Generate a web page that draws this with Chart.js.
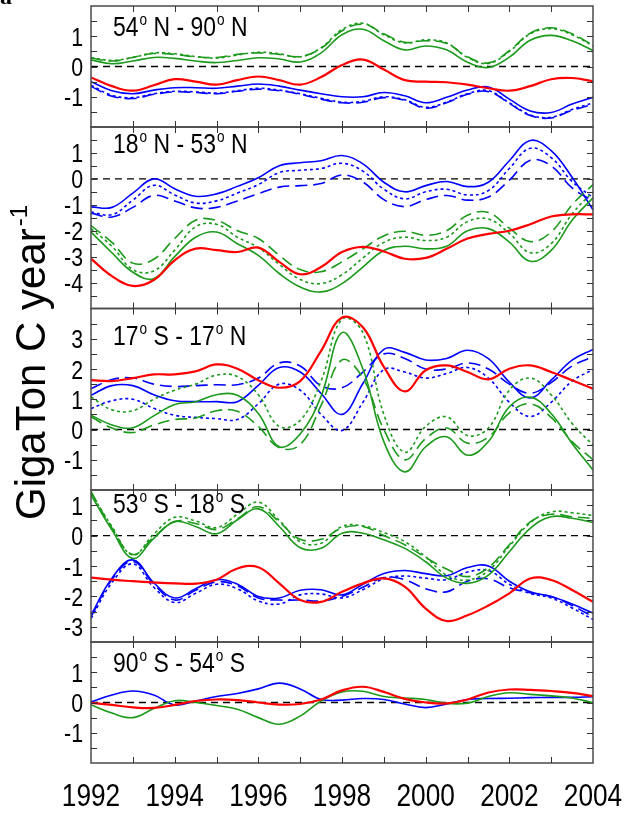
<!DOCTYPE html>
<html>
<head>
<meta charset="utf-8">
<script src="https://cdn.jsdelivr.net/npm/chart.js@4.4.1/dist/chart.umd.min.js"></script>
<style>
  html, body { margin: 0; padding: 0; background: #fff; }
  #wrap { position: relative; width: 625px; height: 813px; }
</style>
</head>
<body>
<div id="wrap"><canvas id="chart" width="625" height="813"></canvas></div>
<script>
// sample years (half-year steps), shared by every series
const YEARS = [1992, 1992.5, 1993, 1993.5, 1994, 1994.5, 1995, 1995.5, 1996, 1996.5, 1997, 1997.5,
  1998, 1998.5, 1999, 1999.5, 2000, 2000.5, 2001, 2001.5, 2002, 2002.5, 2003, 2003.5, 2004];
const X_TICKS = [1992, 1994, 1996, 1998, 2000, 2002, 2004];
const Y_TICKS = [[1, 0, -1], [1, 0, -1, -2, -3, -4], [3, 2, 1, 0, -1], [1, 0, -1, -2, -3], [1, 0, -1]];

const PANEL_TITLES = ['54° N - 90° N', '18° N - 53° N', '17° S - 17° N', '53° S - 18° S', '90° S - 54° S'];

// 54N - 90N
const P1_RED = [-0.36, -0.65, -0.8, -0.62, -0.42, -0.5, -0.6, -0.45, -0.33, -0.45, -0.6, -0.35, 0.05, 0.23, -0.1, -0.45, -0.5, -0.52, -0.6, -0.72, -0.8, -0.65, -0.42, -0.38, -0.49];
const P1_GREEN = [0.22, 0.09, 0.18, 0.3, 0.27, 0.18, 0.13, 0.2, 0.29, 0.25, 0.15, 0.45, 1.05, 1.23, 0.85, 0.55, 0.68, 0.55, 0.14, -0.03, 0.31, 0.87, 1.03, 0.85, 0.53];
const P1_GREEN_DOT = [0.3, 0.2, 0.3, 0.45, 0.42, 0.33, 0.28, 0.38, 0.47, 0.42, 0.32, 0.62, 1.22, 1.43, 1.05, 0.78, 0.88, 0.78, 0.3, 0.1, 0.5, 1.08, 1.25, 1.05, 0.68];
const P1_GREEN_DASH = [0.28, 0.18, 0.3, 0.43, 0.4, 0.32, 0.3, 0.4, 0.45, 0.4, 0.33, 0.6, 1.18, 1.4, 1.08, 0.8, 0.85, 0.76, 0.32, 0.12, 0.52, 1.1, 1.28, 1.08, 0.7];
const P1_BLUE = [-0.5, -0.8, -0.9, -0.78, -0.7, -0.7, -0.72, -0.65, -0.58, -0.65, -0.78, -0.9, -1.0, -1.0, -0.86, -0.97, -1.2, -1.02, -0.78, -0.68, -1.08, -1.47, -1.52, -1.24, -1.02];
const P1_BLUE_DOT = [-0.62, -0.95, -1.03, -0.9, -0.82, -0.84, -0.88, -0.8, -0.72, -0.78, -0.9, -1.05, -1.18, -1.15, -1.0, -1.1, -1.35, -1.18, -0.9, -0.8, -1.2, -1.6, -1.68, -1.42, -1.2];
const P1_BLUE_DASH = [-0.66, -0.98, -1.06, -0.92, -0.84, -0.86, -0.9, -0.82, -0.75, -0.8, -0.92, -1.08, -1.2, -1.18, -1.03, -1.12, -1.38, -1.2, -0.92, -0.83, -1.22, -1.62, -1.7, -1.45, -1.25];

// 18N - 53N
const P2_RED = [-3.08, -3.75, -4.13, -3.9, -3.14, -2.69, -2.75, -2.82, -2.65, -3.2, -3.68, -3.4, -2.82, -2.62, -2.8, -3.08, -3.05, -2.7, -2.3, -2.12, -2.0, -1.75, -1.45, -1.37, -1.37];
const P2_GREEN = [-2.05, -2.85, -3.6, -3.85, -3.0, -2.25, -2.05, -2.5, -2.95, -3.65, -4.17, -4.36, -4.04, -3.4, -2.76, -2.6, -2.7, -2.6, -2.0, -1.92, -2.44, -3.18, -2.76, -1.6, -0.73];
const P2_GREEN_DOT = [-1.92, -2.6, -3.5, -3.55, -2.75, -1.85, -1.75, -2.25, -2.65, -3.3, -3.88, -4.04, -3.7, -3.05, -2.45, -2.25, -2.38, -2.25, -1.65, -1.55, -2.1, -2.85, -2.5, -1.35, -0.5];
const P2_GREEN_DASH = [-1.8, -2.45, -3.25, -3.1, -2.3, -1.6, -1.6, -2.0, -2.3, -2.95, -3.5, -3.58, -3.2, -2.7, -2.2, -2.02, -2.18, -2.0, -1.4, -1.3, -1.9, -2.42, -2.05, -1.0, -0.22];
const P2_BLUE = [-1.08, -1.1, -0.55, 0.0, -0.38, -0.67, -0.58, -0.29, 0.04, 0.51, 0.62, 0.7, 0.9, 0.58, -0.13, -0.5, -0.26, -0.1, -0.3, -0.13, 0.7, 1.48, 1.09, 0.06, -1.19];
const P2_BLUE_DOT = [-1.28, -1.38, -0.82, -0.25, -0.62, -0.93, -0.85, -0.55, -0.22, 0.24, 0.33, 0.4, 0.6, 0.3, -0.4, -0.77, -0.5, -0.4, -0.62, -0.45, 0.4, 1.18, 0.82, -0.1, -0.72];
const P2_BLUE_DASH = [-1.32, -1.47, -1.1, -0.64, -0.85, -1.12, -1.1, -0.85, -0.57, -0.32, -0.26, -0.18, 0.15, -0.12, -0.8, -1.07, -0.8, -0.64, -0.82, -0.7, -0.05, 0.72, 0.5, -0.35, -0.85];

// 17S - 17N
const P3_RED = [1.63, 1.6, 1.7, 1.82, 1.82, 1.92, 2.15, 2.01, 1.63, 1.38, 1.6, 2.6, 3.7, 3.38, 2.07, 1.26, 1.96, 2.12, 1.9, 1.66, 2.01, 2.12, 1.9, 1.63, 1.35];
const P3_GREEN = [0.47, 0.15, 0.06, 0.45, 0.83, 0.92, 1.15, 1.13, 0.53, -0.57, -0.15, 1.1, 3.2, 2.0, -0.4, -1.4, -0.57, -0.24, -0.85, -0.4, 0.75, 1.07, 0.53, -0.46, -1.34];
const P3_GREEN_DOT = [1.08, 0.65, 0.62, 1.0, 1.3, 1.5, 1.8, 1.75, 1.15, 0.1, 0.3, 1.6, 3.65, 3.2, 0.5, -0.75, 0.1, 0.42, -0.2, 0.05, 1.3, 1.7, 1.15, 0.2, -0.52];
const P3_GREEN_DASH = [0.42, 0.05, -0.1, 0.15, 0.33, 0.38, 0.62, 0.6, 0.1, -0.6, -0.5, 0.8, 2.3, 1.7, 0.0, -1.0, -0.3, 0.05, -0.45, -0.25, 0.55, 0.85, 0.4, -0.4, -1.0];
const P3_BLUE = [1.13, 1.45, 1.45, 1.15, 0.95, 0.92, 0.92, 0.92, 1.46, 2.05, 1.9, 1.19, 0.5, 1.52, 2.65, 2.55, 2.3, 2.35, 2.62, 2.34, 1.57, 1.04, 1.63, 2.29, 2.65];
const P3_BLUE_DOT = [0.69, 0.95, 1.0, 0.7, 0.47, 0.4, 0.36, 0.33, 0.85, 1.5, 1.3, 0.5, -0.03, 0.9, 1.98, 1.9, 1.7, 1.85, 2.05, 1.7, 0.9, 0.43, 0.9, 1.6, 1.98];
const P3_BLUE_DASH = [1.35, 1.65, 1.7, 1.5, 1.42, 1.45, 1.48, 1.48, 1.7, 2.2, 2.1, 1.45, 1.38, 1.9, 2.5, 2.35, 2.0, 2.0, 2.2, 2.0, 1.5, 1.2, 1.55, 2.1, 2.4];

// 53S - 18S
const P4_RED = [-1.38, -1.45, -1.5, -1.54, -1.57, -1.58, -1.45, -1.08, -1.04, -1.57, -2.12, -2.18, -1.85, -1.57, -1.41, -1.68, -2.4, -2.81, -2.62, -2.3, -1.9, -1.41, -1.46, -1.79, -2.18];
const P4_GREEN = [1.34, 0.19, -0.75, -0.09, 0.46, 0.3, 0.06, 0.52, 0.88, 0.3, -0.4, -0.42, 0.08, 0.08, -0.14, -0.42, -0.86, -1.4, -1.57, -1.3, -0.53, 0.24, 0.62, 0.57, 0.43];
const P4_GREEN_DOT = [1.4, 0.3, -0.64, 0.05, 0.6, 0.48, 0.26, 0.7, 1.1, 0.5, -0.2, -0.25, 0.3, 0.32, 0.1, -0.2, -0.7, -1.3, -1.46, -1.15, -0.35, 0.42, 0.78, 0.75, 0.66];
const P4_GREEN_DASH = [1.45, 0.25, -0.62, -0.05, 0.46, 0.4, 0.2, 0.55, 0.95, 0.45, -0.12, -0.12, 0.25, 0.3, 0.0, -0.3, -0.72, -1.1, -1.35, -1.05, -0.3, 0.45, 0.7, 0.62, 0.57];
const P4_BLUE = [-2.62, -1.4, -0.8, -1.55, -2.05, -1.75, -1.45, -1.6, -2.0, -2.05, -1.8, -1.78, -1.95, -1.6, -1.25, -1.15, -1.25, -1.32, -1.05, -1.0, -1.5, -1.85, -2.0, -2.25, -2.55];
const P4_BLUE_DOT = [-2.73, -1.55, -0.93, -1.7, -2.2, -1.9, -1.6, -1.75, -2.15, -2.25, -1.95, -1.92, -2.05, -1.78, -1.42, -1.33, -1.4, -1.45, -1.2, -1.15, -1.6, -1.9, -2.05, -2.38, -2.76];
const P4_BLUE_DASH = [-2.67, -1.45, -0.85, -1.6, -2.12, -1.8, -1.52, -1.65, -2.05, -2.12, -2.12, -2.15, -2.0, -1.7, -1.38, -1.45, -1.75, -1.85, -1.5, -1.42, -1.72, -1.88, -2.0, -2.3, -2.67];

// 90S - 54S
const P5_RED = [-0.01, -0.08, -0.16, -0.18, -0.08, 0.05, 0.1, 0.08, 0.0, -0.07, -0.05, 0.1, 0.4, 0.52, 0.35, 0.12, 0.0, -0.03, 0.1, 0.33, 0.43, 0.42, 0.38, 0.32, 0.21];
const P5_GREEN = [-0.07, -0.35, -0.5, -0.2, 0.06, 0.0, -0.1, -0.22, -0.5, -0.72, -0.45, 0.05, 0.35, 0.37, 0.2, 0.15, 0.1, -0.03, -0.02, 0.2, 0.32, 0.27, 0.22, 0.15, -0.01];
const P5_BLUE = [0.02, 0.25, 0.38, 0.25, -0.08, 0.05, 0.2, 0.3, 0.45, 0.64, 0.45, 0.1, 0.08, 0.13, 0.1, -0.05, -0.17, -0.05, 0.1, 0.13, 0.14, 0.16, 0.17, 0.17, 0.19];

const SANS = '"Liberation Sans", Arial, sans-serif';
const SQUEEZE = 0.82; // no narrow face installed: squeeze Liberation Sans to an Arial Narrow width

const STYLE = {
  red: { color: '#ff0000', width: 2.2, dash: [] },
  green: { color: '#1c9a1c', width: 1.6, dash: [] },
  greenDot: { color: '#1c9a1c', width: 1.6, dash: [3, 3] },
  greenDash: { color: '#1c9a1c', width: 1.6, dash: [12, 6] },
  blue: { color: '#0000ff', width: 1.6, dash: [] },
  blueDot: { color: '#0000ff', width: 1.6, dash: [3, 3] },
  blueDash: { color: '#0000ff', width: 1.6, dash: [12, 6] },
};

// panel axes: range, stack height (px) and where the title baseline sits (data value)
const PANELS = [
  { id: 'p1', min: -2, max: 2, h: 121, titleAt: 1.0,
    lines: [[P1_RED, 'red'], [P1_GREEN, 'green'], [P1_GREEN_DOT, 'greenDot'], [P1_GREEN_DASH, 'greenDash'],
            [P1_BLUE, 'blue'], [P1_BLUE_DOT, 'blueDot'], [P1_BLUE_DASH, 'blueDash']] },
  { id: 'p2', min: -5, max: 2, h: 181.5, titleAt: 1.0,
    lines: [[P2_RED, 'red'], [P2_GREEN, 'green'], [P2_GREEN_DOT, 'greenDot'], [P2_GREEN_DASH, 'greenDash'],
            [P2_BLUE, 'blue'], [P2_BLUE_DOT, 'blueDot'], [P2_BLUE_DASH, 'blueDash']] },
  { id: 'p3', min: -2, max: 4, h: 181.5, titleAt: 2.8,
    lines: [[P3_RED, 'red'], [P3_GREEN, 'green'], [P3_GREEN_DOT, 'greenDot'], [P3_GREEN_DASH, 'greenDash'],
            [P3_BLUE, 'blue'], [P3_BLUE_DOT, 'blueDot'], [P3_BLUE_DASH, 'blueDash']] },
  { id: 'p4', min: -3.5, max: 1.5, h: 152, titleAt: 0.75,
    lines: [[P4_RED, 'red'], [P4_GREEN, 'green'], [P4_GREEN_DOT, 'greenDot'], [P4_GREEN_DASH, 'greenDash'],
            [P4_BLUE, 'blue'], [P4_BLUE_DOT, 'blueDot'], [P4_BLUE_DASH, 'blueDash']] },
  { id: 'p5', min: -2, max: 2, h: 121, titleAt: 1.0,
    lines: [[P5_RED, 'red'], [P5_GREEN, 'green'], [P5_BLUE, 'blue']] },
];

function lineDataset(values, axis, style) {
  return {
    data: YEARS.map((x, i) => ({ x, y: values[i] })),
    yAxisID: axis,
    borderColor: style.color,
    borderWidth: style.width,
    borderDash: style.dash,
    pointRadius: 0,
    tension: 0.4,
    fill: false,
  };
}

const datasets = [];
PANELS.forEach(p => {
  p.lines.forEach(([vals, key]) => datasets.push(lineDataset(vals, p.id, STYLE[key])));
});
// dashed zero lines go last so they are drawn underneath
PANELS.forEach(p => {
  datasets.push({
    data: [{ x: YEARS[0], y: 0 }, { x: YEARS[YEARS.length - 1], y: 0 }],
    yAxisID: p.id,
    borderColor: '#000',
    borderWidth: 1.3,
    borderDash: [7, 5],
    pointRadius: 0,
    tension: 0,
  });
});

// labels are drawn by the plugin below (squeezed font), axes only reserve the room
const scales = {
  x: {
    type: 'linear', position: 'bottom', min: 1992, max: 2004,
    grid: { display: false, drawTicks: false },
    border: { display: false },
    ticks: { display: false },
    afterFit: s => { s.height = 50; },
  },
};
PANELS.forEach((p, i) => {
  scales[p.id] = {
    type: 'linear', position: 'left', stack: 'lat', stackWeight: p.h, weight: PANELS.length - i,
    min: p.min, max: p.max,
    grid: { display: false, drawTicks: false },
    border: { display: false },
    ticks: { display: false },
    afterFit: s => { s.width = 91; },
  };
});

function narrowText(ctx, text, x, y, size, align, squeeze = SQUEEZE) {
  ctx.save();
  ctx.font = `${size}px ${SANS}`;
  ctx.textAlign = 'left';
  ctx.textBaseline = 'alphabetic';
  const w = ctx.measureText(text).width * squeeze;
  const x0 = align === 'right' ? x - w : align === 'center' ? x - w / 2 : x;
  ctx.translate(x0, y);
  ctx.scale(squeeze, 1);
  ctx.fillText(text, 0, 0);
  ctx.restore();
  return w;
}

function drawPanelTitle(ctx, text, x, y) {
  const parts = text.split('°');
  let cx = x;
  parts.forEach((part, k) => {
    cx += narrowText(ctx, part, cx, y, 27, 'left', 0.85);
    if (k < parts.length - 1) {
      cx += narrowText(ctx, 'o', cx + 1, y - 11, 16, 'left', 0.85) + 1;
    }
  });
}

const panelPlugin = {
  id: 'panels',
  // keep each line inside its own panel
  beforeDatasetDraw(chart, args) {
    const ys = chart.scales[args.meta.yAxisID];
    const { left, right } = chart.chartArea;
    chart.ctx.save();
    chart.ctx.beginPath();
    chart.ctx.rect(left, ys.top, right - left, ys.bottom - ys.top);
    chart.ctx.clip();
  },
  afterDatasetDraw(chart) {
    chart.ctx.restore();
  },
  afterDraw(chart) {
    const ctx = chart.ctx;
    const { left, right } = chart.chartArea;
    const xs = chart.scales.x;
    ctx.save();
    ctx.fillStyle = '#000';
    PANELS.forEach((p, i) => {
      const ys = chart.scales[p.id];
      ctx.strokeStyle = '#4a4a4a';
      ctx.lineWidth = 1.5;
      ctx.strokeRect(left, ys.top, right - left, ys.bottom - ys.top);

      // inward ticks: half units on y, years on x
      ctx.lineWidth = 1;
      ctx.strokeStyle = '#333';
      ctx.beginPath();
      for (let v = p.min + 0.5; v < p.max; v += 0.5) {
        const y = Math.round(ys.getPixelForValue(v)) + 0.5;
        ctx.moveTo(left, y); ctx.lineTo(left + 6, y);
        ctx.moveTo(right - 6, y); ctx.lineTo(right, y);
      }
      for (let yr = 1993; yr < 2004; yr++) {
        const x = Math.round(xs.getPixelForValue(yr)) + 0.5;
        ctx.moveTo(x, ys.top); ctx.lineTo(x, ys.top + 6);
        ctx.moveTo(x, ys.bottom - 6); ctx.lineTo(x, ys.bottom);
      }
      ctx.stroke();

      Y_TICKS[i].forEach(v => {
        narrowText(ctx, String(v), left - 8, ys.getPixelForValue(v) + 9.5, 26, 'right');
      });
      drawPanelTitle(ctx, PANEL_TITLES[i], left + 22, ys.getPixelForValue(p.titleAt));
    });

    X_TICKS.forEach(v => {
      narrowText(ctx, String(v), xs.getPixelForValue(v), 806, 32, 'center');
    });

    // shared y axis title, rotated, with superscript exponent
    ctx.translate(45, 520);
    ctx.rotate(-Math.PI / 2);
    ctx.font = `42px ${SANS}`;
    ctx.fillText('GigaTon C year', 0, 0);
    const w = ctx.measureText('GigaTon C year').width;
    ctx.font = `24px ${SANS}`;
    ctx.fillText('-1', w + 2, -18);
    ctx.restore();

    // clipped panel letter in the corner
    ctx.save();
    ctx.fillStyle = '#000';
    ctx.font = 'bold 24px "Liberation Serif", serif';
    ctx.fillText('a', 0, 4);
    ctx.restore();
  },
};

new Chart(document.getElementById('chart').getContext('2d'), {
  type: 'line',
  data: { datasets },
  options: {
    responsive: false,
    animation: false,
    events: [],
    layout: { padding: { left: 0, right: 32, top: 6, bottom: 0 } },
    plugins: { legend: { display: false }, tooltip: { enabled: false } },
    scales,
  },
  plugins: [panelPlugin],
});
</script>
</body>
</html>
